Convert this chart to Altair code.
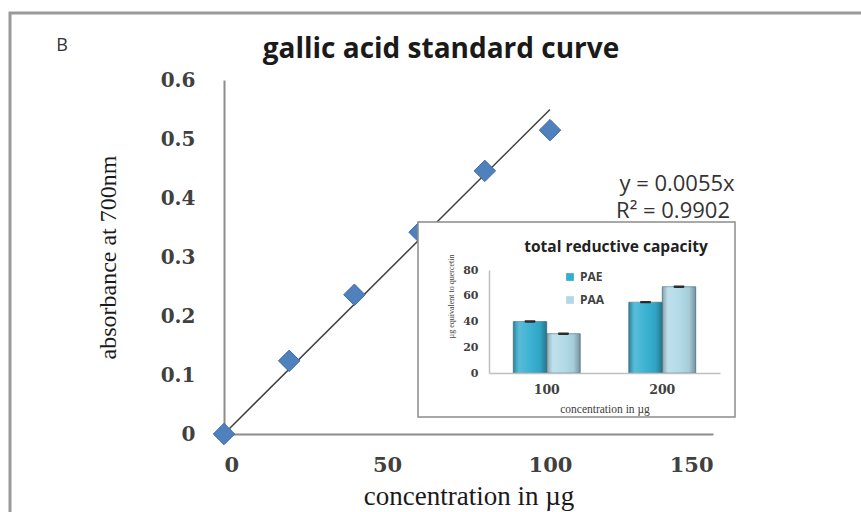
import altair as alt
import pandas as pd

# ---------------- data ----------------
conc_ug = [0, 20, 40, 60, 80, 100]
absorbance = [0.0, 0.124, 0.236, 0.342, 0.446, 0.515]
trend_conc = [0, 100]
trend_abs = [0.0, 0.55]
main_x_ticks = [0, 50, 100, 150]
main_y_ticks = [0, 0.1, 0.2, 0.3, 0.4, 0.5, 0.6]

inset_dose = ['100', '100', '200', '200']
inset_extract = ['PAE', 'PAA', 'PAE', 'PAA']
inset_value = [40, 30.5, 55, 67]
inset_error = [0.9, 0.9, 0.9, 0.9]
inset_y_ticks = [0, 20, 40, 60, 80]
dose_names = ['100', '200']
extract_names = ['PAE', 'PAA']
extract_colors = ['#33AED0', '#B0D9E7']

# ---------------- layout ----------------
W, H = 489, 354
LEFT, TOP = 224, 80
one = pd.DataFrame({'a': [0]})

main_df = pd.DataFrame({'conc': conc_ug, 'abs': absorbance})
trend_df = pd.DataFrame({'conc': trend_conc, 'abs': trend_abs})
inset_df = pd.DataFrame({'dose': inset_dose, 'extract': inset_extract,
                         'val': inset_value, 'err': inset_error})
inset_df['lo'] = inset_df['val'] - inset_df['err']
inset_df['hi'] = inset_df['val'] + inset_df['err']

# ---------------- main chart ----------------
mx = alt.X('conc:Q', scale=alt.Scale(domain=[0, 150], nice=False, zero=False),
           axis=alt.Axis(orient='bottom', values=main_x_ticks, title='concentration in µg',
                         grid=False, ticks=False, domainColor='#8C8C8C', domainWidth=2,
                         labelFont='DejaVu Serif', labelFontWeight='bold', labelFontSize=21,
                         labelColor='#404040', labelPadding=20,
                         titleFont='Liberation Serif', titleFontSize=27, titleFontWeight='normal',
                         titleColor='#1A1A1A', titleBaseline='alphabetic', titleY=504 - TOP - H))
my = alt.Y('abs:Q', scale=alt.Scale(domain=[0, 0.6], nice=False),
           axis=alt.Axis(orient='left', values=main_y_ticks, format='~g', title='absorbance at 700nm',
                         grid=False, ticks=False, domainColor='#8C8C8C', domainWidth=2,
                         labelFont='DejaVu Serif', labelFontWeight='bold', labelFontSize=20,
                         labelColor='#404040', labelPadding=29,
                         titleFont='Liberation Serif', titleFontSize=24, titleFontWeight='normal',
                         titleColor='#1A1A1A', titleX=120 - LEFT, titleY=257 - TOP))

trend = alt.Chart(trend_df).mark_line(color='#404040', strokeWidth=1.5).encode(x=mx, y=my)
points = alt.Chart(main_df).mark_point(shape='diamond', filled=True, size=460, opacity=1,
                                       fill='#4F81BD', stroke='#3C6AA3', strokeWidth=1).encode(x=mx, y=my)
main = alt.layer(trend, points)

# ---------------- decorations / texts ----------------
frame = alt.Chart(one).mark_rect(fill='transparent', stroke='#9A9A9A', strokeWidth=3).encode(
    x=alt.value(10 - LEFT), x2=alt.value(900 - LEFT), y=alt.value(13 - TOP), y2=alt.value(560 - TOP))
letter = alt.Chart(one).mark_text(text='B', font='Open Sans', fontSize=18, color='#333333',
                                  align='center', baseline='middle').encode(
    x=alt.value(62 - LEFT), y=alt.value(46 - TOP))
main_title = alt.Chart(one).mark_text(text='gallic acid standard curve', font='Open Sans',
                                      fontWeight='bold', fontSize=28, color='#1A1A1A',
                                      align='center', baseline='middle').encode(
    x=alt.value(441 - LEFT), y=alt.value(50 - TOP))
eq1 = alt.Chart(one).mark_text(text='y = 0.0055x', font='Open Sans', fontSize=22, color='#333333',
                               align='center', baseline='middle').encode(
    x=alt.value(677 - LEFT), y=alt.value(184 - TOP))
eq2 = alt.Chart(one).mark_text(text='R² = 0.9902', font='Open Sans', fontSize=22, color='#333333',
                               align='center', baseline='middle').encode(
    x=alt.value(673 - LEFT), y=alt.value(211 - TOP))
box = alt.Chart(one).mark_rect(fill='white', stroke='#8C8C8C', strokeWidth=1.5).encode(
    x=alt.value(418 - LEFT), x2=alt.value(735 - LEFT), y=alt.value(222 - TOP), y2=alt.value(417 - TOP))
inset_title = alt.Chart(one).mark_text(text='total reductive capacity', font='Open Sans', fontWeight='bold',
                                       fontSize=15.5, color='#222222', align='center',
                                       baseline='middle').encode(
    x=alt.value(616 - LEFT), y=alt.value(247 - TOP))

# ---------------- inset bar chart ----------------
ix = alt.X('dose:N', scale=alt.Scale(domain=dose_names, range=[489 - LEFT, 720 - LEFT],
                                     paddingInner=0.42, paddingOuter=0.21),
           axis=alt.Axis(orient='bottom', offset=-(TOP + H - 373),
                         title='concentration in µg', labelAngle=0, ticks=False, grid=False,
                         domainColor='#BFBFBF', domainWidth=1.5, zindex=2,
                         labelFont='DejaVu Serif', labelFontWeight='bold', labelFontSize=12.5,
                         labelColor='#404040', labelPadding=10,
                         titleFont='Liberation Serif', titleFontSize=11.5, titleFontWeight='normal',
                         titleColor='#404040', titlePadding=8))
iy_axis = alt.Axis(orient='left', offset=-(489 - LEFT), values=inset_y_ticks, title='µg equivalent to quercetin',
                   ticks=False, grid=False, domainColor='#BFBFBF', domainWidth=1.5, zindex=2,
                   labelFont='DejaVu Serif', labelFontWeight='bold', labelFontSize=11,
                   labelColor='#404040', labelPadding=11,
                   titleFont='Liberation Serif', titleFontSize=8, titleFontWeight='normal',
                   titleColor='#404040', titleX=455 - 489, titleY=296 - TOP)
iscale = alt.Scale(domain=[0, 80], range=[373 - TOP, 270 - TOP], nice=False)
ixo = alt.XOffset('extract:N', scale=alt.Scale(domain=extract_names, paddingInner=0, paddingOuter=0))

bars = alt.Chart(inset_df).mark_bar(stroke='#5F8E9C', strokeWidth=0.8).encode(
    x=ix, xOffset=ixo,
    y=alt.Y('val:Q', scale=iscale, axis=iy_axis),
    color=alt.Color('extract:N', scale=alt.Scale(domain=extract_names, range=extract_colors),
                    legend=alt.Legend(orient='none', legendX=340, legendY=191, title=None,
                                      symbolType='square', symbolSize=60, symbolStrokeWidth=0,
                                      labelFont='Open Sans', labelFontWeight='bold', labelFontSize=12,
                                      labelColor='#404040', rowPadding=11, padding=0, labelOffset=4)))
shade = alt.Chart(inset_df).mark_bar(
    fill=alt.LinearGradient(gradient='linear', x1=0, y1=0, x2=1, y2=0,
                            stops=[alt.GradientStop(color='rgba(0,0,0,0.28)', offset=0),
                                   alt.GradientStop(color='rgba(255,255,255,0.18)', offset=0.18),
                                   alt.GradientStop(color='rgba(255,255,255,0.05)', offset=0.5),
                                   alt.GradientStop(color='rgba(0,0,0,0.06)', offset=0.8),
                                   alt.GradientStop(color='rgba(0,0,0,0.32)', offset=1)])).encode(
    x=ix, xOffset=ixo, y=alt.Y('val:Q', scale=iscale, axis=iy_axis))
errs = alt.Chart(inset_df).mark_bar(width=11, color='#2B2B2B', cornerRadius=2).encode(
    x=ix, xOffset=ixo,
    y=alt.Y('lo:Q', scale=iscale, axis=iy_axis), y2='hi:Q')
inset = alt.layer(bars, shade, errs)

chart = alt.layer(frame, letter, main_title, main, box, eq1, eq2, inset, inset_title).resolve_scale(
    x='independent', y='independent').properties(
    width=W, height=H,
    padding={'left': LEFT, 'top': TOP, 'right': 861 - LEFT - W, 'bottom': 512 - TOP - H},
    autosize=alt.AutoSizeParams(type='none'),
).configure_view(stroke='transparent')

chart.save('out.html', embed_options={'renderer': 'svg', 'actions': False})
